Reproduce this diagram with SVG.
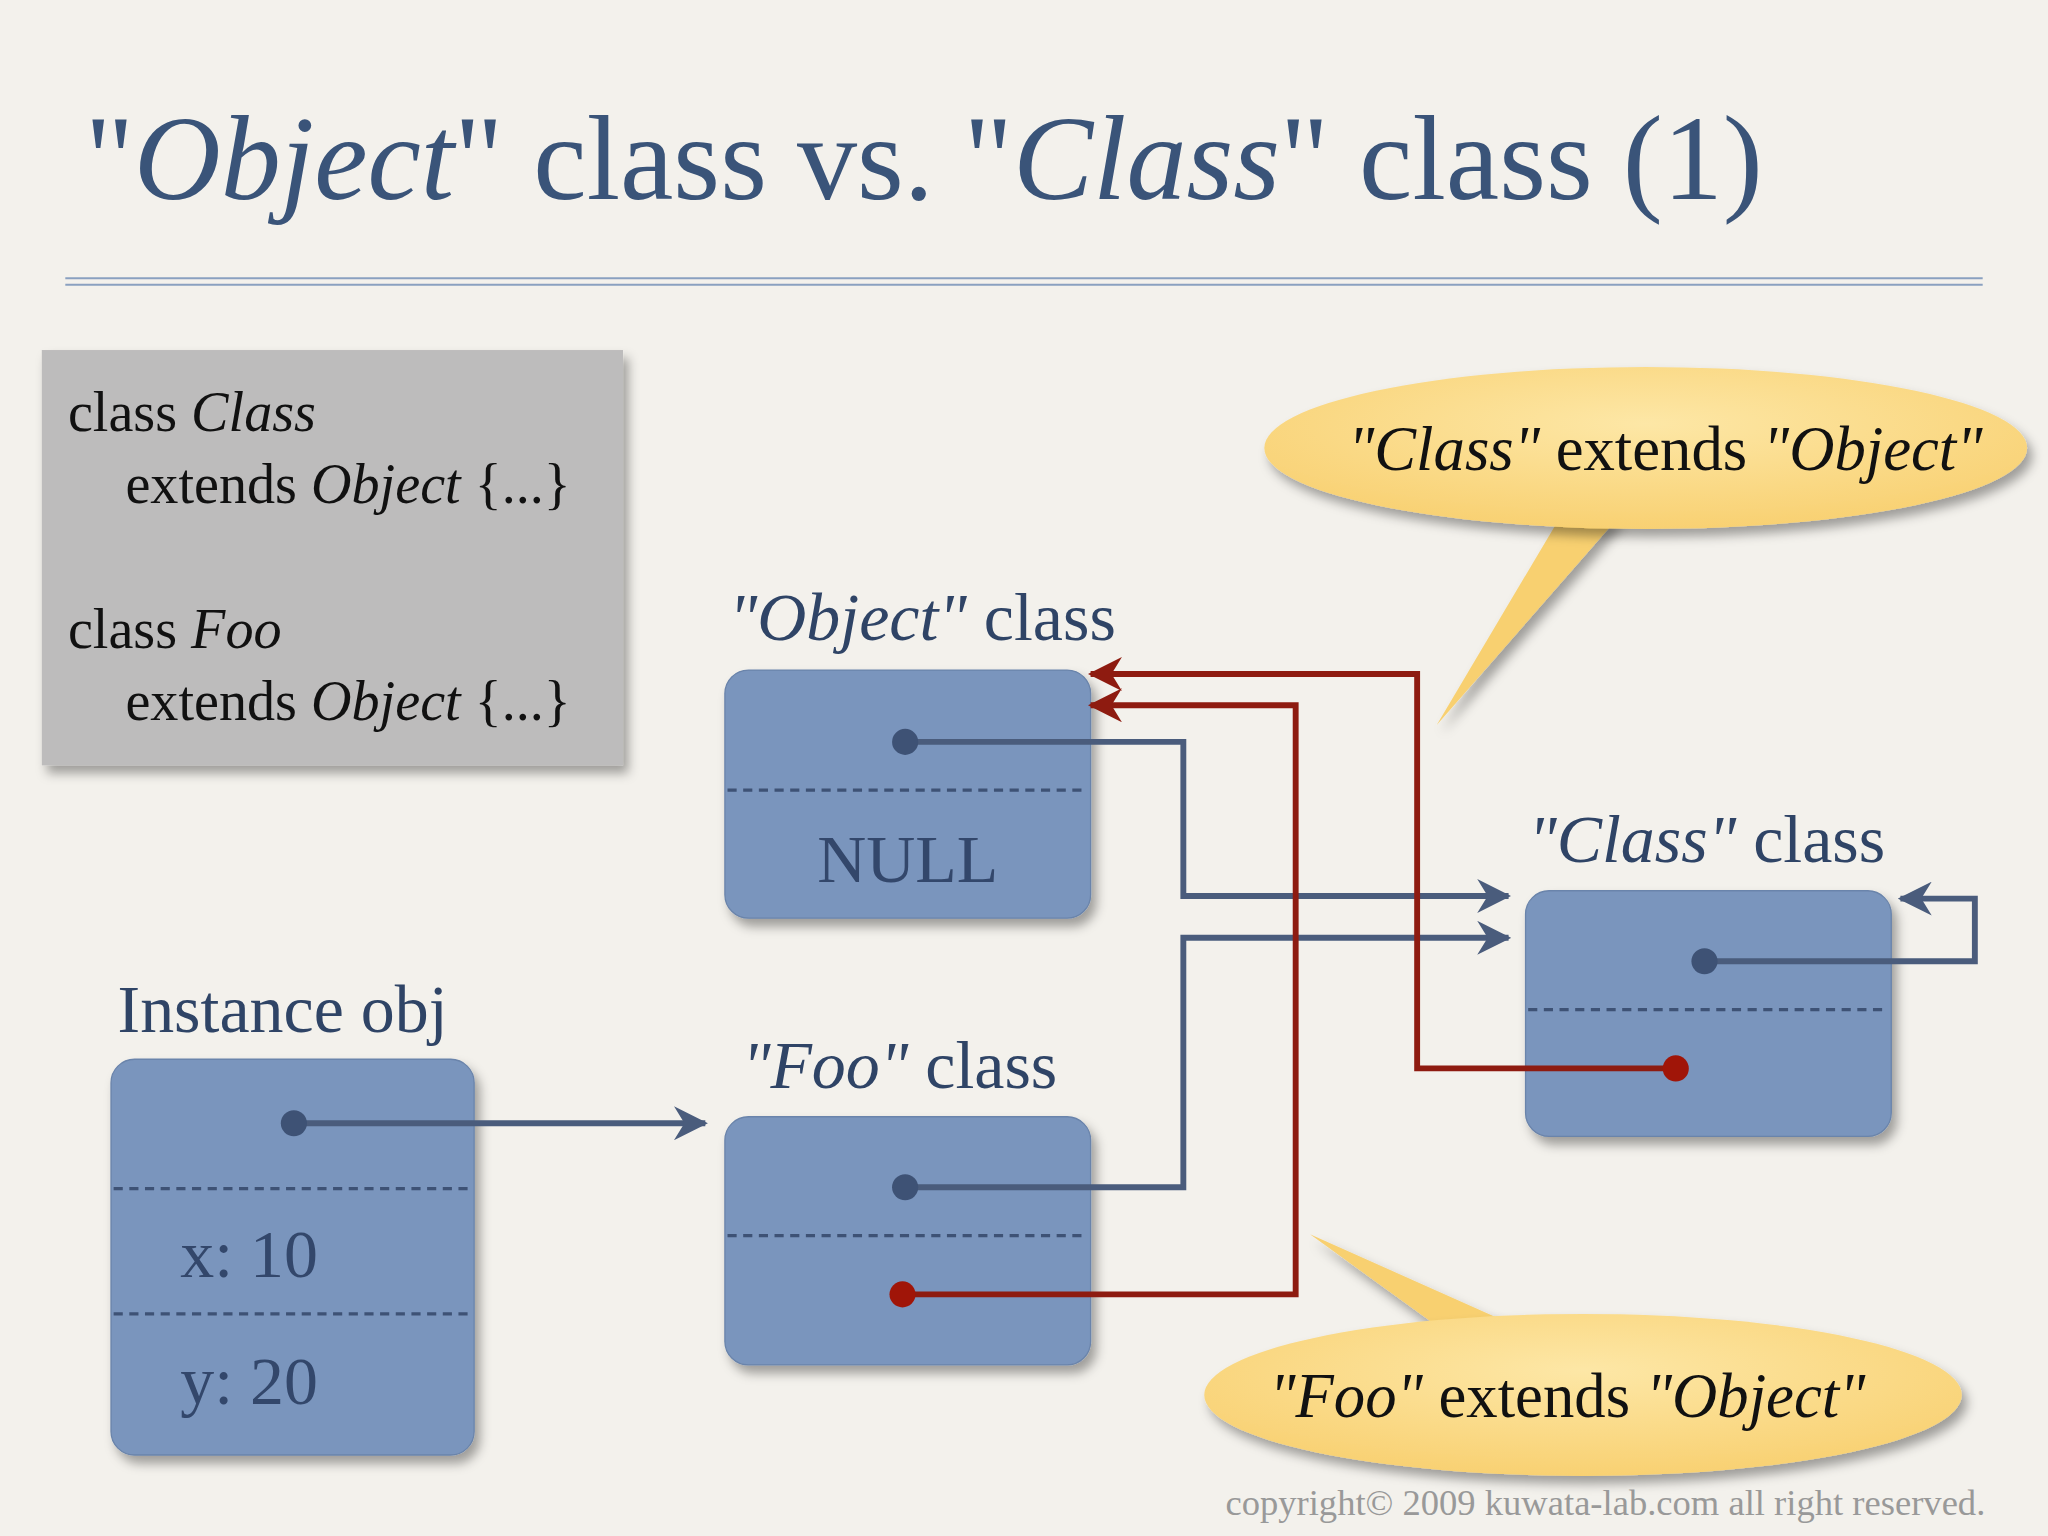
<svg xmlns="http://www.w3.org/2000/svg" width="2048" height="1536" viewBox="0 0 2048 1536">
<defs>
<style>
.t{font-family:"Liberation Serif","DejaVu Serif",serif}
.i{font-style:italic}
.node{fill:#7a95bd;stroke:#6a84ab;stroke-width:1}
.dash{stroke:#3e5275;stroke-width:2.5;stroke-dasharray:7 5}
.blue{fill:none;stroke:#4a5c7c;stroke-width:4.5}
.red{fill:none;stroke:#8e1b10;stroke-width:4.5}
.lbl{font-size:52px;fill:#2f4466}
.cell{font-size:52px;fill:#33476b}
</style>
<marker id="ab" viewBox="0 0 12 12" refX="11" refY="6" markerWidth="6" markerHeight="6" orient="auto" markerUnits="userSpaceOnUse"><path d="M0,0 L12,6 L0,12 L4,6 Z" fill="#4a5c7c" transform="scale(2.2)"/></marker>
<marker id="ar" viewBox="0 0 26 26" refX="24" refY="13" markerWidth="26" markerHeight="26" orient="auto" markerUnits="userSpaceOnUse"><path d="M0,0 L26,13 L0,26 L8,13 Z" fill="#8e1b10"/></marker>
<marker id="ab2" viewBox="0 0 26 26" refX="24" refY="13" markerWidth="26" markerHeight="26" orient="auto" markerUnits="userSpaceOnUse"><path d="M0,0 L26,13 L0,26 L8,13 Z" fill="#4a5c7c"/></marker>
<radialGradient id="cg" cx="0.5" cy="0.35" r="0.7"><stop offset="0" stop-color="#fde7a6"/><stop offset="1" stop-color="#f8cf6e"/></radialGradient>
<filter id="sh" x="-10%" y="-10%" width="130%" height="130%"><feDropShadow dx="4" dy="6" stdDeviation="4" flood-color="#000" flood-opacity="0.35"/></filter>
</defs>
<rect width="2048" height="1536" fill="#f3f1ec"/>
<g transform="scale(1.30612)">
<g id="title"><text class="t" x="65" y="152" font-size="92" fill="#3a5479">"<tspan class="i">Object</tspan>" class vs. "<tspan class="i">Class</tspan>" class (1)</text>
<line x1="50" y1="213" x2="1518" y2="213" stroke="#8aa0c0" stroke-width="1.5"/>
<line x1="50" y1="218" x2="1518" y2="218" stroke="#8aa0c0" stroke-width="1.5"/></g>
<g id="code"><rect x="32" y="268" width="445" height="318" fill="#bdbcbc" filter="url(#sh)"/>
<text class="t" font-size="43" fill="#111"><tspan x="52" y="330">class <tspan class="i">Class</tspan></tspan><tspan x="96" y="385">extends <tspan class="i">Object</tspan> {...}</tspan><tspan x="52" y="496">class <tspan class="i">Foo</tspan></tspan><tspan x="96" y="551">extends <tspan class="i">Object</tspan> {...}</tspan></text></g>
<g id="callout1"><path d="M1195,395 L1100,555 L1240,395 Z" fill="#f8d070" filter="url(#sh)"/><ellipse cx="1260" cy="343" rx="292" ry="62" fill="url(#cg)" filter="url(#sh)"/>
<text class="t" x="1275" y="360" font-size="48" text-anchor="middle" fill="#111"><tspan class="i">"Class"</tspan> extends <tspan class="i">"Object"</tspan></text></g>
<g id="callout2"><path d="M1100,1015 L1003,945 L1160,1015 Z" fill="#f8d070" filter="url(#sh)"/><ellipse cx="1212" cy="1068" rx="290" ry="62" fill="url(#cg)" filter="url(#sh)"/>
<text class="t" x="1200" y="1085" font-size="48" text-anchor="middle" fill="#111"><tspan class="i">"Foo"</tspan> extends <tspan class="i">"Object"</tspan></text></g>
<g id="objectClass"><text class="t lbl" x="558" y="490"><tspan class="i">"Object"</tspan> class</text>
<rect class="node" x="555" y="513" width="280" height="190" rx="18" filter="url(#sh)"/>
<line class="dash" x1="557" y1="605" x2="833" y2="605"/>
<text class="t cell" x="695" y="675" text-anchor="middle">NULL</text></g>
<g id="classClass"><text class="t lbl" x="1170" y="660"><tspan class="i">"Class"</tspan> class</text>
<rect class="node" x="1168" y="682" width="280" height="188" rx="18" filter="url(#sh)"/>
<line class="dash" x1="1170" y1="773" x2="1446" y2="773"/></g>
<g id="fooClass"><text class="t lbl" x="568" y="833"><tspan class="i">"Foo"</tspan> class</text>
<rect class="node" x="555" y="855" width="280" height="190" rx="18" filter="url(#sh)"/>
<line class="dash" x1="557" y1="946" x2="833" y2="946"/></g>
<g id="instance"><text class="t lbl" x="90" y="790">Instance obj</text>
<rect class="node" x="85" y="811" width="278" height="303" rx="18" filter="url(#sh)"/>
<line class="dash" x1="87" y1="910" x2="361" y2="910"/>
<line class="dash" x1="87" y1="1006" x2="361" y2="1006"/>
<text class="t cell" x="138" y="978">x: 10</text>
<text class="t cell" x="138" y="1075">y: 20</text></g>
<g id="connectors">
<path class="blue" d="M225,860 H540" marker-end="url(#ab2)"/>
<path class="blue" d="M693,568 H906 V686 H1155" marker-end="url(#ab2)"/>
<path class="blue" d="M693,909 H906 V718 H1155" marker-end="url(#ab2)"/>
<path class="blue" d="M1305,736 H1512 V688 H1455" marker-end="url(#ab2)"/>
<path class="red" d="M1283,818 H1085 V516 H835" marker-end="url(#ar)"/>
<path class="red" d="M691,991 H992 V540 H835" marker-end="url(#ar)"/>
<circle cx="225" cy="860" r="10" fill="#3e5275"/>
<circle cx="693" cy="568" r="10" fill="#3e5275"/>
<circle cx="693" cy="909" r="10" fill="#3e5275"/>
<circle cx="1305" cy="736" r="10" fill="#3e5275"/>
<circle cx="1283" cy="818" r="10" fill="#a01508"/>
<circle cx="691" cy="991" r="10" fill="#a01508"/>
</g>
<text class="t" x="1520" y="1160" font-size="28" text-anchor="end" fill="#999">copyright© 2009 kuwata-lab.com all right reserved.</text>
</g>
</svg>
